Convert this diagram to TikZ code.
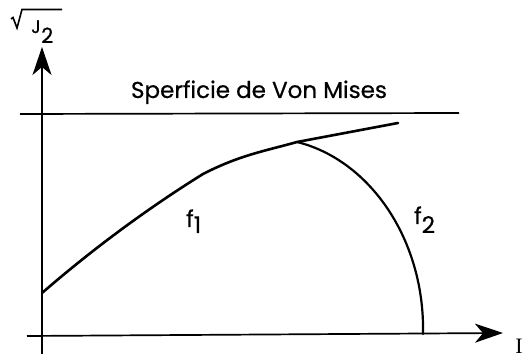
\documentclass[tikz,border=0pt]{standalone}
\usepackage{fontspec}
\setmainfont{Poppins}[FakeBold=0.6,AutoFakeBold=0.6]
\newfontfamily\serifI{Liberation Serif}
\usetikzlibrary{arrows.meta}
\begin{document}
\begin{tikzpicture}[x=1pt,y=-1pt,
  axis/.style={line width=1.7pt,-{Stealth[length=28pt,width=19pt,inset=8pt]}},
  curve/.style={line width=2.6pt,line join=round,line cap=round},
  lbl/.style={inner sep=0pt,font=\bfseries\fontsize{23}{23}\selectfont}]
\useasboundingbox (0,0) rectangle (525,358);
% axes
\coordinate (vb) at (42,354);
\coordinate (vt) at (42,47);
\coordinate (hl) at (27,336);
\coordinate (hr) at (503,333);
\draw[axis] (vb) -- (vt);
\draw[axis] (hl) -- (hr);
% Von Mises line
\coordinate (vm1) at (20,114);
\coordinate (vm2) at (459,113);
\draw[line width=1.7pt] (vm1) -- (vm2);
\node[lbl,anchor=base] (vmtxt) at (259,98) {Sperficie de Von Mises};
% curves
\coordinate (f1start) at (42,293);
\coordinate (peak) at (297,142);
\coordinate (f1end) at (398,123);
\coordinate (f2end) at (423,334);
\draw[curve] (f1start) .. controls (95,247) and (150,207) .. (203,174)
  .. controls (240,155) and (265,151) .. (peak) -- (f1end);
\draw[line width=2.2pt,line cap=round] (peak) .. controls (370,160) and (425,240) .. (f2end);
% labels
\node[lbl,anchor=base west] (f1) at (186,227) {f\raisebox{-6pt}{1}};
\node[lbl,anchor=base west] (f2) at (414,224) {f\raisebox{-9pt}{2}};
\node[inner sep=0pt,anchor=base east,font=\serifI\fontsize{22}{22}\selectfont] (I) at (523,353) {I};
% sqrt J2
\draw[line width=1.6pt,line join=miter] (11,19) -- (13,17.5) -- (17,28) -- (22,9.5) -- (62,9.5);
\node[inner sep=0pt,anchor=base west,font=\bfseries\fontsize{18}{18}\selectfont] (J) at (31,33) {J};
\node[inner sep=0pt,anchor=base west,font=\bfseries\fontsize{21}{21}\selectfont] (two) at (41,43) {2};
\end{tikzpicture}
\end{document}
